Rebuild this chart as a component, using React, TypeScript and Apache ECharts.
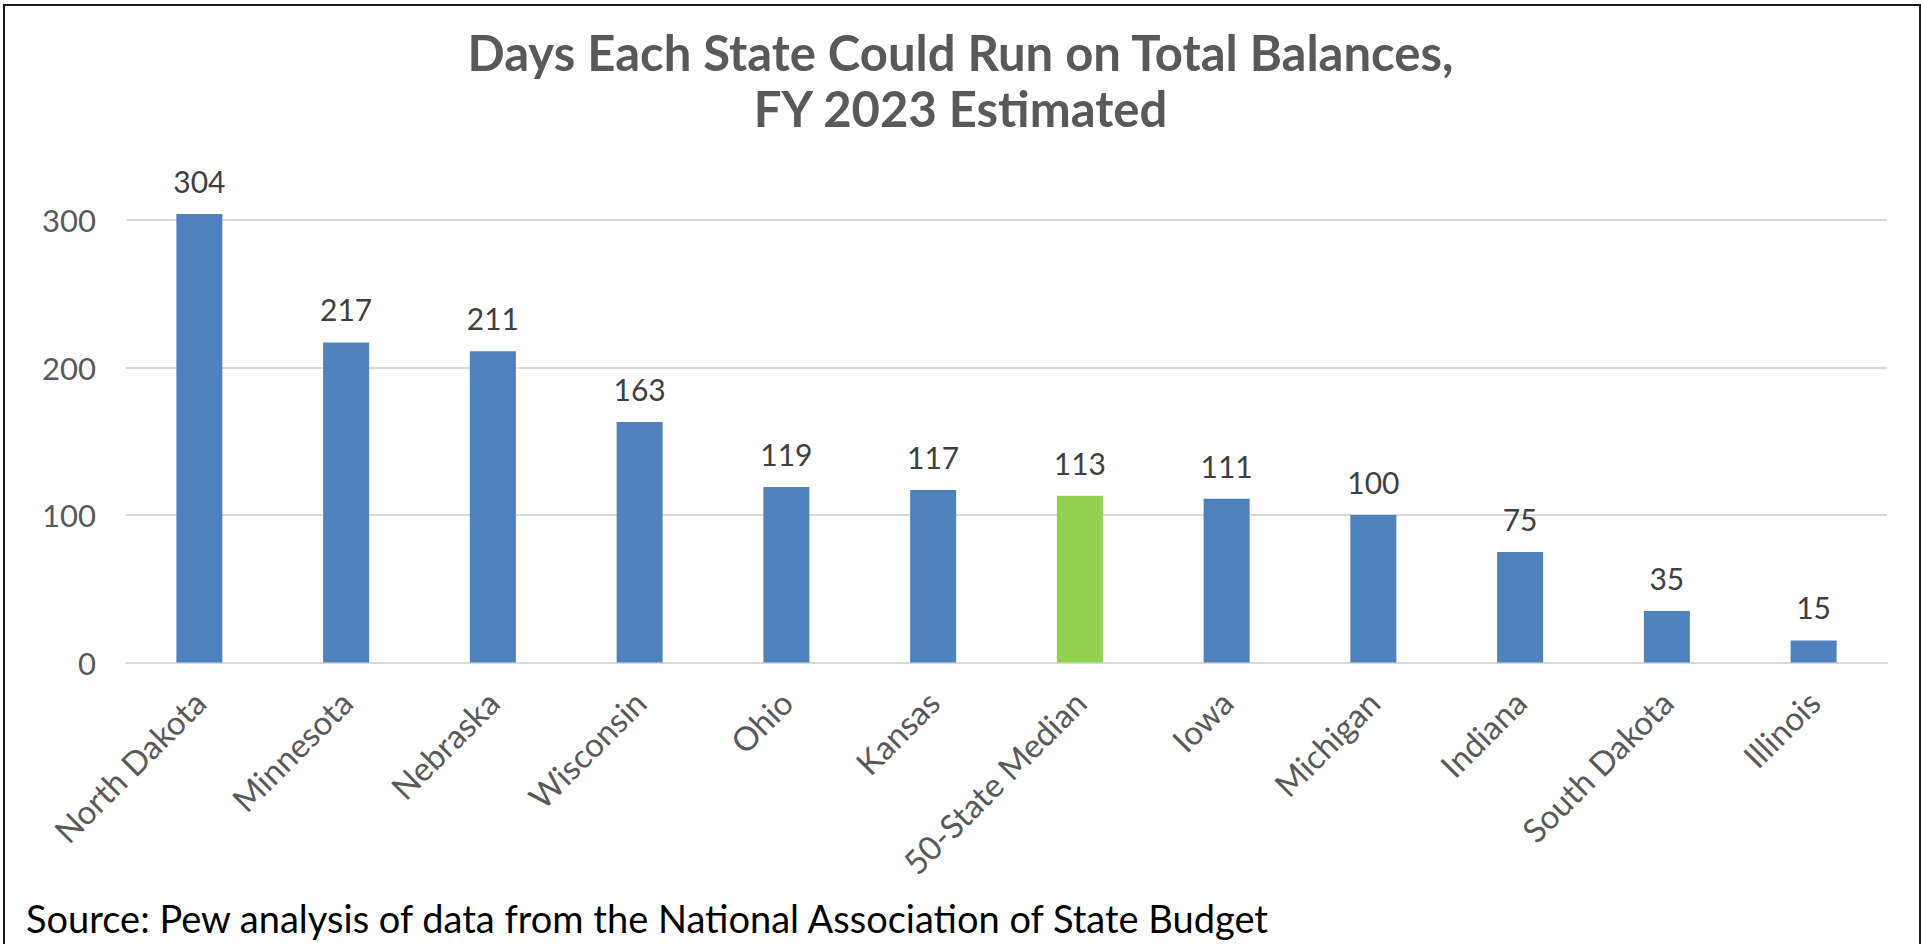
import React, { useEffect, useRef } from "react";
import * as echarts from "echarts";

const categories = [
  "North Dakota",
  "Minnesota",
  "Nebraska",
  "Wisconsin",
  "Ohio",
  "Kansas",
  "50-State Median",
  "Iowa",
  "Michigan",
  "Indiana",
  "South Dakota",
  "Illinois",
];
const days = [304, 217, 211, 163, 119, 117, 113, 111, 100, 75, 35, 15];
const highlightCategory = "50-State Median";
const titleText = "Days Each State Could Run on Total Balances,\nFY 2023 Estimated";
const sourceText = "Source: Pew analysis of data from the National Association of State Budget";

const BLUE = "#4F81BD";
const GREEN = "#92D050";

export default function App() {
  const ref = useRef<HTMLDivElement>(null);

  useEffect(() => {
    document.body.style.margin = "0";
    document.body.style.overflow = "hidden";
    if (!ref.current) return;
    const chart = echarts.init(ref.current, null, { renderer: "svg" });
    chart.setOption({
      animation: false,
      backgroundColor: "#ffffff",
      textStyle: { fontFamily: "Lato" },
      title: {
        text: titleText,
        left: "center",
        top: 19,
        textStyle: {
          fontFamily: "Lato",
          fontSize: 49,
          fontWeight: "bold",
          color: "#595959",
          lineHeight: 56,
        },
      },
      grid: {
        left: 126,
        right: 34,
        top: 220,
        bottom: 281.5,
        containLabel: false,
      },
      xAxis: {
        type: "category",
        data: categories,
        axisLine: { show: true, lineStyle: { color: "#D9D9D9", width: 2 } },
        axisTick: { show: false },
        axisLabel: {
          rotate: 45,
          interval: 0,
          margin: 34,
          fontFamily: "Lato",
          fontSize: 33,
          color: "#595959",
        },
      },
      yAxis: {
        type: "value",
        min: 0,
        max: 300,
        interval: 100,
        axisLine: { show: false },
        axisTick: { show: false },
        splitLine: { lineStyle: { color: "#D9D9D9", width: 2 } },
        axisLabel: {
          margin: 30,
          fontFamily: "Lato",
          fontSize: 31,
          color: "#595959",
        },
      },
      series: [
        {
          type: "bar",
          clip: false,
          barWidth: 46,
          data: days.map((v, i) => ({
            value: v,
            itemStyle: { color: categories[i] === highlightCategory ? GREEN : BLUE },
          })),
          label: {
            show: true,
            position: "top",
            distance: 18,
            fontFamily: "Lato",
            fontSize: 30,
            color: "#404040",
          },
        },
      ],
      graphic: [
        {
          type: "rect",
          shape: { x: 4, y: 5, width: 1916, height: 1000 },
          style: { fill: "none", stroke: "#1a1a1a", lineWidth: 2 },
          silent: true,
        },
        {
          type: "text",
          left: 26,
          top: 899,
          style: {
            text: sourceText,
            fontFamily: "Lato",
            fontSize: 38,
            fill: "#000000",
          },
        },
      ],
    });
    return () => chart.dispose();
  }, []);

  return <div ref={ref} style={{ width: 1921, height: 944 }} />;
}
